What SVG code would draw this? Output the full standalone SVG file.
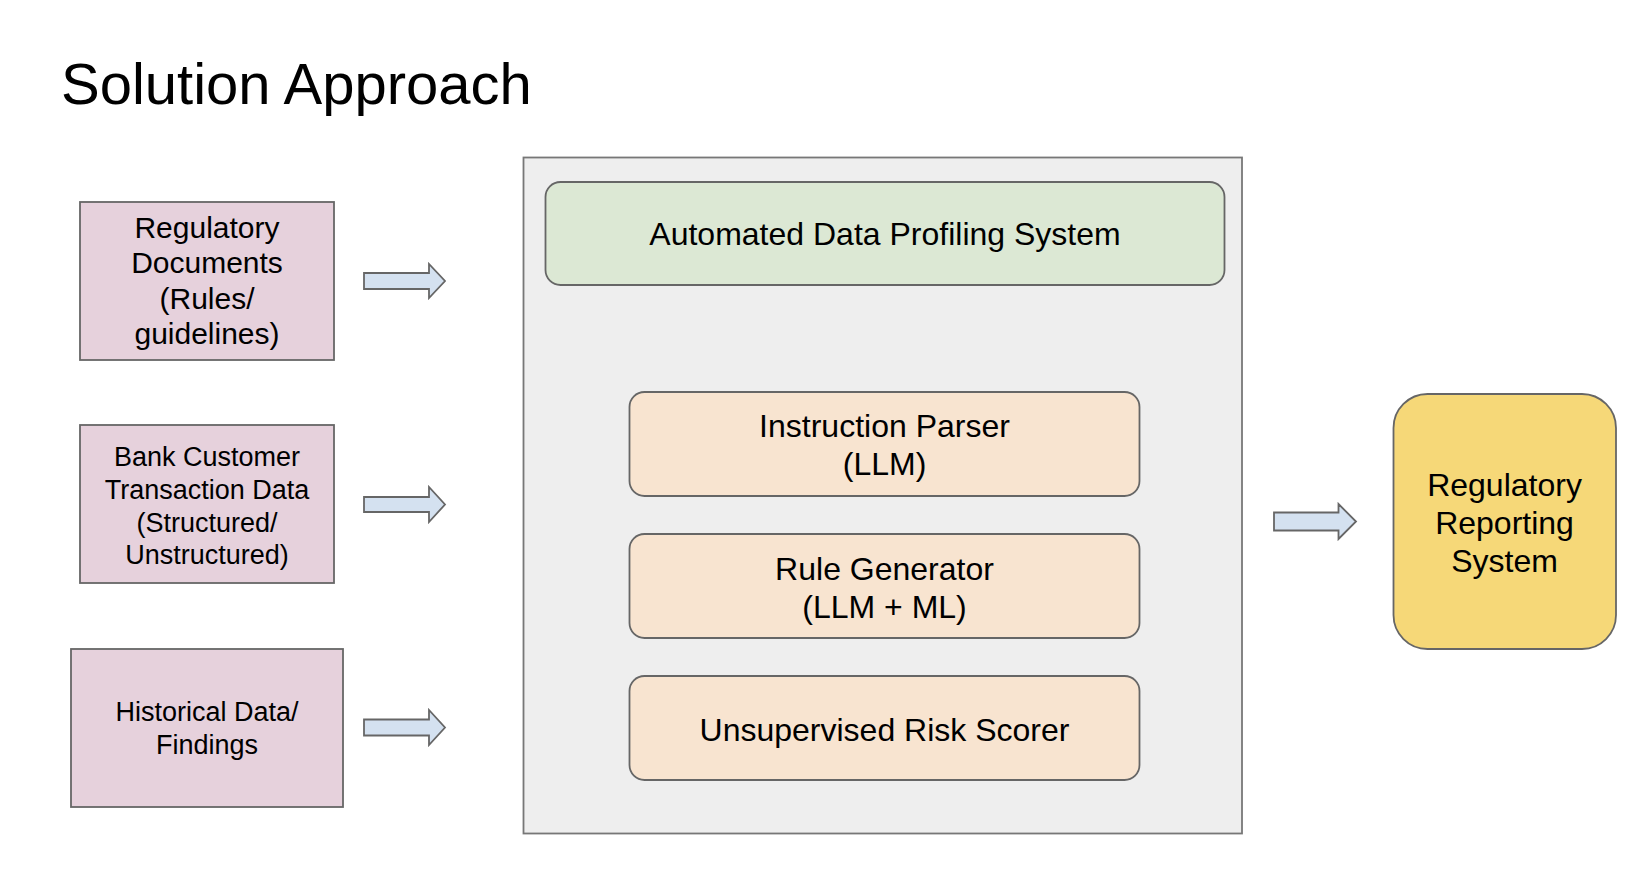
<svg xmlns="http://www.w3.org/2000/svg" width="1638" height="870" viewBox="0 0 1638 870">
<style>
.t{font-family:"Liberation Sans",Arial,sans-serif;fill:#000;text-anchor:middle}
.in{fill:#E6D1DC;stroke:#666;stroke-width:1.8}
.mod{fill:#F8E4D0;stroke:#666;stroke-width:1.8}
.arr{fill:#D4E1F0;stroke:#666;stroke-width:1.8;stroke-linejoin:miter}
</style>
<rect width="1638" height="870" fill="#fff"/>
<text class="t" x="61" y="104" font-size="58" style="text-anchor:start">Solution Approach</text>

<g id="container">
<rect x="523.5" y="157.5" width="718.5" height="676" fill="#EEEEEE" stroke="#777" stroke-width="1.8"/>
</g>

<g id="profiling">
<rect x="545.5" y="182" width="679" height="103" rx="15" fill="#DCE8D4" stroke="#666" stroke-width="1.8"/>
<text class="t" x="885" y="245" font-size="32">Automated Data Profiling System</text>
</g>

<g id="parser">
<rect class="mod" x="629.5" y="392" width="510" height="104" rx="15"/>
<text class="t" x="884.5" y="437" font-size="32">Instruction Parser</text>
<text class="t" x="884.5" y="475" font-size="32">(LLM)</text>
</g>
<g id="generator">
<rect class="mod" x="629.5" y="534" width="510" height="104" rx="15"/>
<text class="t" x="884.5" y="580" font-size="32">Rule Generator</text>
<text class="t" x="884.5" y="617.5" font-size="32">(LLM + ML)</text>
</g>
<g id="scorer">
<rect class="mod" x="629.5" y="676" width="510" height="104" rx="15"/>
<text class="t" x="884.5" y="740.5" font-size="32">Unsupervised Risk Scorer</text>
</g>

<g id="reg-docs">
<rect class="in" x="80" y="202" width="254" height="158"/>
<text class="t" x="207" y="238" font-size="30">Regulatory</text>
<text class="t" x="207" y="273" font-size="30">Documents</text>
<text class="t" x="207" y="308.5" font-size="30">(Rules/</text>
<text class="t" x="207" y="343.5" font-size="30">guidelines)</text>
</g>
<g id="bank-data">
<rect class="in" x="80" y="425" width="254" height="158"/>
<text class="t" x="207" y="466" font-size="27">Bank Customer</text>
<text class="t" x="207" y="499" font-size="27">Transaction Data</text>
<text class="t" x="207" y="531.5" font-size="27">(Structured/</text>
<text class="t" x="207" y="563.5" font-size="27">Unstructured)</text>
</g>
<g id="historical">
<rect class="in" x="71" y="649" width="272" height="158"/>
<text class="t" x="207" y="721" font-size="27">Historical Data/</text>
<text class="t" x="207" y="754" font-size="27">Findings</text>
</g>

<g id="reporting">
<rect x="1393.5" y="394" width="222.5" height="255" rx="34" fill="#F6D878" stroke="#666" stroke-width="1.8"/>
<text class="t" x="1504.5" y="496" font-size="32">Regulatory</text>
<text class="t" x="1504.5" y="533.5" font-size="32">Reporting</text>
<text class="t" x="1504.5" y="571.5" font-size="32">System</text>
</g>

<g id="connectors">
<path class="arr" d="M364 273 H429 V264 L445 281 L429 298 V289 H364 Z"/>
<path class="arr" d="M364 497 H429 V487 L445 504.5 L429 522 V512 H364 Z"/>
<path class="arr" d="M364 719.5 H429 V710 L445 727.5 L429 745 V735.5 H364 Z"/>
<path class="arr" d="M1274 512.5 H1338.5 V504 L1356 521.5 L1338.5 539 V530.5 H1274 Z"/>
</g>
</svg>
